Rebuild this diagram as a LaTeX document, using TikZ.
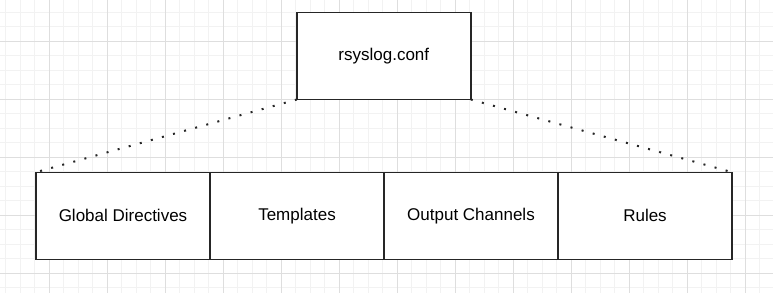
\documentclass[tikz,border=0pt]{standalone}
\usepackage{fontspec}
\setmainfont{Liberation Sans}
\usetikzlibrary{positioning}
\definecolor{gridmin}{HTML}{F2F2F2}
\definecolor{gridmaj}{HTML}{DEDEDE}
\definecolor{boxline}{HTML}{262626}
\tikzset{
  gridminor/.style={draw=gridmin, line width=1pt},
  gridmajor/.style={draw=gridmaj, line width=1pt},
  cfgbox/.style={draw=boxline, fill=white, line width=1.4pt, minimum width=174pt, minimum height=87pt,
    inner sep=0pt, outer sep=0pt, font=\fontsize{17}{20}\selectfont},
  dotline/.style={boxline, line width=2pt, dash pattern=on 2pt off 9.5pt},
}

\begin{document}
\begin{tikzpicture}[x=1pt,y=-1pt]
\useasboundingbox (0,0) rectangle (773,293);
% background grid
\foreach \x in {5.8,20.3,...,773} \draw[gridminor] (\x,0) -- (\x,293);
\foreach \y in {-2.2,12.3,...,293} \draw[gridminor] (0,\y) -- (773,\y);
\foreach \x in {49.3,107.3,...,773} \draw[gridmajor] (\x,0) -- (\x,293);
\foreach \y in {41.3,99.3,...,293} \draw[gridmajor] (0,\y) -- (773,\y);
% config file and its sections
\node[cfgbox] (conf) at (383.8,56) {rsyslog.conf};
\node[cfgbox] (global) at (123,215.7) {Global Directives};
\node[cfgbox, right=0pt of global] (tmpl) {Templates};
\node[cfgbox, right=0pt of tmpl] (outch) {Output Channels};
\node[cfgbox, right=0pt of outch] (rules) {Rules};
\draw[dotline] (conf.south west) -- (global.north west);
\draw[dotline] (conf.south east) -- (rules.north east);
\end{tikzpicture}
\end{document}
